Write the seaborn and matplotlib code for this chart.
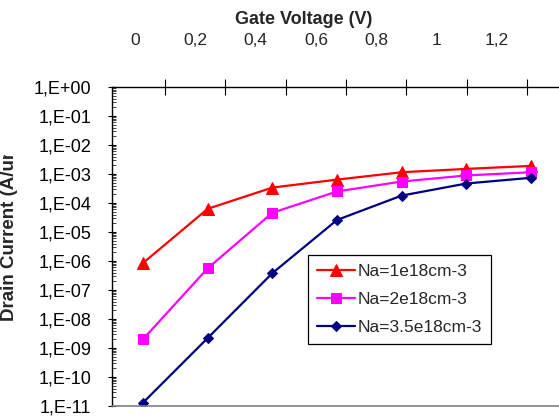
import numpy as np
import pandas as pd
import matplotlib
matplotlib.use('Agg')
import matplotlib.pyplot as plt
import seaborn as sns
from matplotlib.ticker import FixedLocator, FuncFormatter, LogLocator, NullFormatter
from matplotlib.transforms import Bbox, TransformedBbox

gate_voltage = [0, 0.2, 0.4, 0.6, 0.8, 1.0, 1.2]
gate_labels = ['0', '0,2', '0,4', '0,6', '0,8', '1', '1,2']
na_1e18 = [8.5e-7, 6.3e-5, 3.4e-4, 6.4e-4, 1.15e-3, 1.5e-3, 1.9e-3]
na_2e18 = [2.0e-9, 5.6e-7, 4.6e-5, 2.5e-4, 5.5e-4, 8.9e-4, 1.15e-3]
na_35e18 = [1.3e-11, 2.2e-9, 3.8e-7, 2.6e-5, 1.8e-4, 4.7e-4, 7.4e-4]
series_labels = ['Na=1e18cm-3', 'Na=2e18cm-3', 'Na=3.5e18cm-3']

sns.set_style('white')
plt.rcParams['font.family'] = ['Liberation Sans', 'DejaVu Sans']

W, H = 559, 416
fig = plt.figure(figsize=(W / 100, H / 100), dpi=100)
ax = fig.add_axes([112 / W, 1 - 406 / H, (W - 112) / W, (406 - 87) / H])

styles = [('#FF0000', '^', 8), ('#FF00FF', 's', 6.5), ('#000080', 'D', 5.5)]
for vals, lab, (col, mk, ms) in zip([na_1e18, na_2e18, na_35e18], series_labels, styles):
    df = pd.DataFrame({'Vg': gate_voltage, 'Id': vals})
    sns.lineplot(data=df, x='Vg', y='Id', ax=ax, color=col, marker=mk,
                 markersize=ms, markeredgecolor=col, linewidth=1.6, label=lab)

ax.set_yscale('log')
ax.set_ylim(1e-11, 1)
ax.set_xlim(-0.0959, 1.2867)
ax.set_xlabel('')
ax.set_ylabel('')
ax.xaxis.set_visible(False)

ax.yaxis.set_major_locator(FixedLocator([10.0 ** e for e in range(-11, 1)]))
ax.yaxis.set_major_formatter(FuncFormatter(lambda v, p: '1,E%+03d' % int(round(np.log10(v)))))
ax.yaxis.set_minor_locator(LogLocator(base=10, subs=np.arange(2, 10), numticks=50))
ax.yaxis.set_minor_formatter(NullFormatter())
ax.tick_params(axis='y', which='major', direction='inout', length=6, width=0.8,
               labelsize=13, pad=12, left=True, colors='black')
ax.tick_params(axis='y', which='minor', direction='in', length=3, width=0.6, left=True)

for s in ['right', 'top']:
    ax.spines[s].set_visible(False)
ax.spines['left'].set_color('black')
ax.spines['left'].set_linewidth(1)
ax.spines['bottom'].set_color('#808080')
ax.spines['bottom'].set_linewidth(1.2)

ax2 = ax.twiny()
ax2.set_xlim(-0.381, 7.03)
ax2.xaxis.set_major_locator(FixedLocator(range(len(gate_labels))))
ax2.set_xticklabels(gate_labels)
ax2.xaxis.set_minor_locator(FixedLocator([i + 0.5 for i in range(len(gate_labels))]))
ax2.tick_params(axis='x', which='major', length=0, labelsize=12.5, pad=28)
ax2.tick_params(axis='x', which='minor', direction='inout', length=11, width=0.8, top=True, colors='black')
for s in ['left', 'right', 'bottom']:
    ax2.spines[s].set_visible(False)
ax2.spines['top'].set_color('black')
ax2.spines['top'].set_linewidth(1)

fig.text(304 / W, 1 - 20 / H, 'Gate Voltage (V)', ha='center', va='center',
         fontsize=13, fontweight='bold')

# y label is cut off at the top in the original
yl = fig.text(10 / W, 1 - 321 / H, 'Drain Current (A/um)', ha='left', va='center',
              rotation=90, rotation_mode='anchor', fontsize=13.5, fontweight='bold')
yl.set_clip_box(TransformedBbox(Bbox([[0, 1 - 330 / H], [1, 1 - 155 / H]]), fig.transFigure))
yl.set_clip_on(True)

ax.get_legend().remove()
handles, labels = ax.get_legend_handles_labels()
leg = ax.legend(handles, labels, loc='upper left', bbox_to_anchor=(308 / W, 1 - 255 / H),
                bbox_transform=fig.transFigure, borderaxespad=0, fontsize=12.5,
                frameon=True, fancybox=False, edgecolor='black', framealpha=1,
                handlelength=2.2, handletextpad=0.15, labelspacing=0.75,
                borderpad=0.5)
leg.get_frame().set_linewidth(0.9)

fig.savefig('out.png', dpi=100)
